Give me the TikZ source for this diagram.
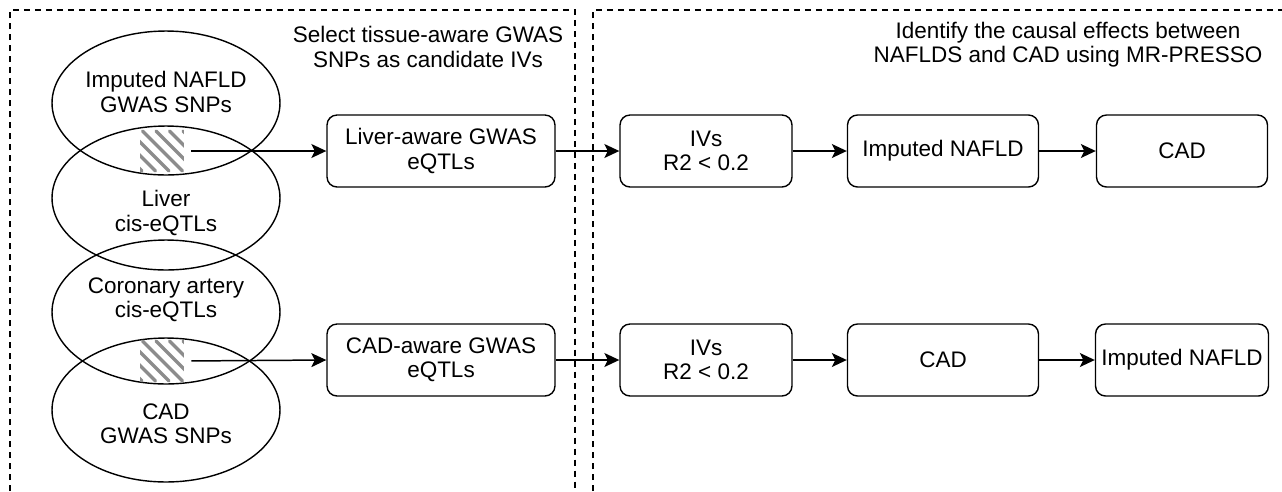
\documentclass[tikz,border=0pt]{standalone}
\usepackage{fontspec}
\setmainfont{Liberation Sans}
\usetikzlibrary{shapes.geometric, arrows.meta, positioning, calc}

\tikzset{
    zone/.style={dash pattern=on 0.12cm off 0.1cm, line width=0.7pt},
    blob/.style={ellipse, draw, line width=0.8pt, minimum width=4.56cm, minimum height=2.88cm},
    stepbox/.style={draw, rounded corners=0.2cm, line width=0.8pt, align=center, minimum height=1.44cm},
    txt/.style={align=center},
    lens/.style={inner sep=0pt, minimum width=0.88cm, minimum height=0.88cm,
        path picture={
            \foreach \k in {-3,...,3}
                \draw[gray!90, line width=0.065cm, line cap=round]
                    ($(path picture bounding box.north west)+(\k*0.27cm+0.05cm,-0.04cm)$) -- ++(0.8cm,-0.8cm);
        }},
    link/.style={-{Stealth[length=0.3cm, width=0.28cm, inset=0.07cm]}, line width=0.85pt}
}

\begin{document}
\begin{tikzpicture}[x=0.02cm, y=-0.02cm, font=\fontsize{12.8}{13.8}\selectfont]
    \useasboundingbox (0,0) rectangle (1282,491);

    % Zones
    \draw[zone] (10,491) -- (10,10) -- (575,10) -- (575,491);
    \draw[zone] (593,491) -- (593,10) -- (1282,10);
    \node[txt] (selTitle) at (428,47) {Select tissue-aware GWAS\\SNPs as candidate IVs};
    \node[txt] (mrTitle) at (1068,45) {Identify the causal effects between\\NAFLDS and CAD using MR-PRESSO};

    % Ellipses
    \node[blob] (nafldSnp) at (166,103) {};
    \node[blob] (liverEqtl) at (166,198) {};
    \node[blob] (coronEqtl) at (166,312) {};
    \node[blob] (cadSnp) at (166,410) {};
    \node[txt] (nafldTxt) at (166,92) {Imputed NAFLD\\GWAS SNPs};
    \node[txt] (liverTxt) at (166,213) {Liver\\cis-eQTLs};
    \node[txt] (coronTxt) at (166,300) {Coronary artery\\cis-eQTLs};
    \node[txt] (cadTxt) at (166,424) {CAD\\GWAS SNPs};

    % Overlaps
    \node[lens] (lensA) at (162,151) {};
    \node[lens] (lensB) at (162,361) {};

    % Top row
    \node[stepbox, minimum width=4.56cm] (liverAw) at (441,151) {Liver-aware GWAS\\eQTLs};
    \node[stepbox, minimum width=3.44cm] (ivTop) at (706,151) {IVs\\R2 < 0.2};
    \node[stepbox, minimum width=3.82cm] (nafldTop) at (943,151) {Imputed NAFLD};
    \node[stepbox, minimum width=3.42cm] (cadTop) at (1182,151) {CAD};

    % Bottom row
    \node[stepbox, minimum width=4.56cm] (cadAw) at (441,360) {CAD-aware GWAS\\eQTLs};
    \node[stepbox, minimum width=3.44cm] (ivBot) at (706,360) {IVs\\R2 < 0.2};
    \node[stepbox, minimum width=3.82cm] (cadBot) at (943,360) {CAD};
    \node[stepbox, minimum width=3.42cm] (nafldBot) at (1182,360) {Imputed NAFLD};

    % Arrows
    \draw[link, shorten <=0.14cm] (lensA.east) -- (liverAw.west);
    \draw[link] (liverAw) -- (ivTop);
    \draw[link] (ivTop) -- (nafldTop);
    \draw[link] (nafldTop) -- (cadTop);
    \draw[link, shorten <=0.14cm] (lensB.east) -- (cadAw.west);
    \draw[link] (cadAw) -- (ivBot);
    \draw[link] (ivBot) -- (cadBot);
    \draw[link] (cadBot) -- (nafldBot);

\end{tikzpicture}
\end{document}
